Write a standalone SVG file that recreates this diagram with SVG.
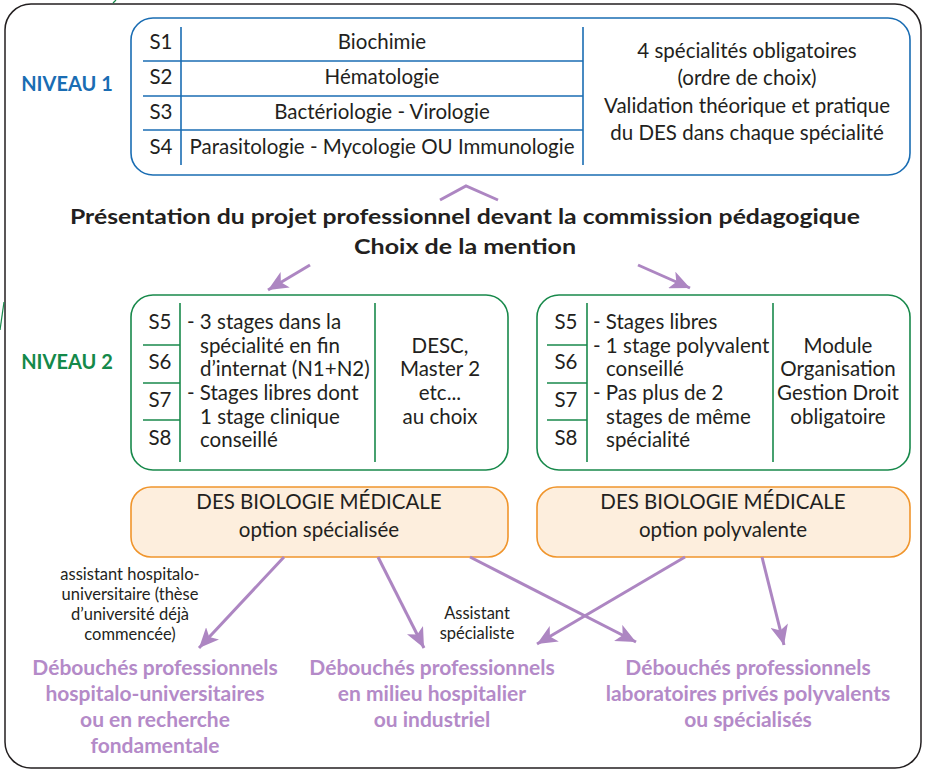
<svg xmlns="http://www.w3.org/2000/svg" width="928" height="771" viewBox="0 0 928 771">
<defs>
<style>
.t{font-family:Lato,"Open Sans","Liberation Sans",sans-serif;fill:#231f20;font-size:20.5px}
.m{text-anchor:middle}
.b{font-weight:bold}
.lvl1{fill:#1a6db3;font-weight:bold;font-size:20px}
.lvl2{fill:#14894a;font-weight:bold;font-size:20px}
.pur{fill:#b48ac8;font-weight:bold;font-size:21px}
.sm{font-size:16.5px}
.blue{fill:#fff;stroke:#1a6db3;stroke-width:1.6}
.bl{stroke:#1a6db3;stroke-width:1.6}
.green{fill:#fff;stroke:#18894b;stroke-width:1.6}
.gl{stroke:#18894b;stroke-width:1.6}
.orange{fill:#fdeedd;stroke:#f0952c;stroke-width:1.6}
.arr{stroke:#ad86c2;stroke-width:3;fill:none}
</style>
<marker id="ah" markerUnits="userSpaceOnUse" markerWidth="22" markerHeight="18" refX="20" refY="9" orient="auto">
<path d="M0,0 L20,9 L0,18 L5,9 Z" fill="#ad86c2"/>
</marker>
</defs>
<rect width="928" height="771" fill="#fff"/>
<rect x="5" y="4" width="916" height="764" rx="26" fill="none" stroke="#231f20" stroke-width="1.5"/>
<line x1="113" y1="3" x2="116" y2="0" stroke="#18894b" stroke-width="1.2"/>
<line x1="0" y1="330" x2="4" y2="302" stroke="#18894b" stroke-width="1.2"/>

<g id="niveau1-label"><text class="t lvl1" x="67" y="91" text-anchor="middle">NIVEAU 1</text></g>
<g id="niveau1">
<rect class="blue" x="131" y="18" width="779" height="157" rx="22"/>
<line class="bl" x1="181" y1="27" x2="181" y2="165"/>
<line class="bl" x1="583" y1="27" x2="583" y2="165"/>
<line class="bl" x1="143" y1="61" x2="583" y2="61"/>
<line class="bl" x1="143" y1="96" x2="583" y2="96"/>
<line class="bl" x1="143" y1="130" x2="583" y2="130"/>
<text class="t m" x="161" y="49">S1</text>
<text class="t m" x="161" y="84">S2</text>
<text class="t m" x="161" y="119">S3</text>
<text class="t m" x="161" y="154">S4</text>
<text class="t m" x="382" y="49">Biochimie</text>
<text class="t m" x="382" y="84">Hématologie</text>
<text class="t m" x="382" y="119">Bactériologie - Virologie</text>
<text class="t m" x="382" y="154">Parasitologie - Mycologie OU Immunologie</text>
<text class="t m" x="747" y="58">4 spécialités obligatoires</text>
<text class="t m" x="747" y="85">(ordre de choix)</text>
<text class="t m" x="747" y="113">Validation théorique et pratique</text>
<text class="t m" x="747" y="140">du DES dans chaque spécialité</text>
</g>

<g id="titre">
<text class="t m b" x="465" y="224" font-size="26" textLength="790" lengthAdjust="spacingAndGlyphs">Présentation du projet professionnel devant la commission pédagogique</text>
<text class="t m b" x="465" y="254" font-size="26" textLength="222" lengthAdjust="spacingAndGlyphs">Choix de la mention</text>
</g>

<g id="niveau2-label"><text class="t lvl2" x="67" y="369" text-anchor="middle">NIVEAU 2</text></g>
<g id="niveau2-specialisee">
<rect class="green" x="131" y="295" width="377" height="175" rx="22"/>
<line class="gl" x1="180" y1="303" x2="180" y2="462"/>
<line class="gl" x1="375" y1="303" x2="375" y2="462"/>
<line class="gl" x1="143" y1="345" x2="180" y2="345"/>
<line class="gl" x1="143" y1="383" x2="180" y2="383"/>
<line class="gl" x1="143" y1="420" x2="180" y2="420"/>
<text class="t m" x="160" y="329">S5</text>
<text class="t m" x="160" y="369">S6</text>
<text class="t m" x="160" y="407">S7</text>
<text class="t m" x="160" y="445">S8</text>
<text class="t" x="187" y="329">- 3 stages dans la</text>
<text class="t" x="200" y="353">spécialité en fin</text>
<text class="t" x="200" y="376">d’internat (N1+N2)</text>
<text class="t" x="187" y="400">- Stages libres dont</text>
<text class="t" x="200" y="424">1 stage clinique</text>
<text class="t" x="200" y="447">conseillé</text>
<text class="t m" x="440" y="353">DESC,</text>
<text class="t m" x="440" y="376">Master 2</text>
<text class="t m" x="440" y="400">etc...</text>
<text class="t m" x="440" y="424">au choix</text>
</g>

<g id="niveau2-polyvalente">
<rect class="green" x="537" y="295" width="373" height="175" rx="22"/>
<line class="gl" x1="587" y1="303" x2="587" y2="462"/>
<line class="gl" x1="773" y1="303" x2="773" y2="462"/>
<line class="gl" x1="547" y1="345" x2="587" y2="345"/>
<line class="gl" x1="547" y1="383" x2="587" y2="383"/>
<line class="gl" x1="547" y1="420" x2="587" y2="420"/>
<text class="t m" x="566" y="329">S5</text>
<text class="t m" x="566" y="369">S6</text>
<text class="t m" x="566" y="407">S7</text>
<text class="t m" x="566" y="445">S8</text>
<text class="t" x="593" y="329">- Stages libres</text>
<text class="t" x="593" y="353">- 1 stage polyvalent</text>
<text class="t" x="606" y="376">conseillé</text>
<text class="t" x="593" y="400">- Pas plus de 2</text>
<text class="t" x="606" y="424">stages de même</text>
<text class="t" x="606" y="447">spécialité</text>
<text class="t m" x="838" y="353">Module</text>
<text class="t m" x="838" y="376">Organisation</text>
<text class="t m" x="838" y="400">Gestion Droit</text>
<text class="t m" x="838" y="424">obligatoire</text>
</g>

<g id="des-specialisee">
<rect class="orange" x="131" y="487" width="377" height="70" rx="20"/>
<text class="t m" x="319" y="509">DES BIOLOGIE MÉDICALE</text>
<text class="t m" x="319" y="537">option spécialisée</text>
</g>
<g id="des-polyvalente">
<rect class="orange" x="537" y="487" width="373" height="70" rx="20"/>
<text class="t m" x="723" y="509">DES BIOLOGIE MÉDICALE</text>
<text class="t m" x="723" y="537">option polyvalente</text>
</g>

<g id="debouches-hu">
<text class="t pur m" x="155" y="675">Débouchés professionnels</text>
<text class="t pur m" x="155" y="701">hospitalo-universitaires</text>
<text class="t pur m" x="155" y="727">ou en recherche</text>
<text class="t pur m" x="155" y="753">fondamentale</text>
</g>
<g id="debouches-hosp">
<text class="t pur m" x="432" y="675">Débouchés professionnels</text>
<text class="t pur m" x="432" y="701">en milieu hospitalier</text>
<text class="t pur m" x="432" y="727">ou industriel</text>
</g>
<g id="debouches-labo">
<text class="t pur m" x="748" y="675">Débouchés professionnels</text>
<text class="t pur m" x="748" y="701">laboratoires privés polyvalents</text>
<text class="t pur m" x="748" y="727">ou spécialisés</text>
</g>

<g id="connecteurs">
<polyline class="arr" points="440,200 466,186 498,200"/>
<line class="arr" x1="310" y1="265" x2="268" y2="290" marker-end="url(#ah)"/>
<line class="arr" x1="638" y1="265" x2="690" y2="288" marker-end="url(#ah)"/>
<line class="arr" x1="284" y1="557" x2="199" y2="648" marker-end="url(#ah)"/>
<line class="arr" x1="378" y1="557" x2="424" y2="648" marker-end="url(#ah)"/>
<line class="arr" x1="470" y1="557" x2="636" y2="642" marker-end="url(#ah)"/>
<line class="arr" x1="685" y1="557" x2="537" y2="644" marker-end="url(#ah)"/>
<line class="arr" x1="762" y1="557" x2="784" y2="645" marker-end="url(#ah)"/>
<text class="t sm m" x="130" y="580">assistant hospitalo-</text>
<text class="t sm m" x="130" y="600">universitaire (thèse</text>
<text class="t sm m" x="130" y="620">d’université déjà</text>
<text class="t sm m" x="130" y="640">commencée)</text>
<text class="t sm m" x="477" y="619">Assistant</text>
<text class="t sm m" x="477" y="639">spécialiste</text>
</g>
</svg>
